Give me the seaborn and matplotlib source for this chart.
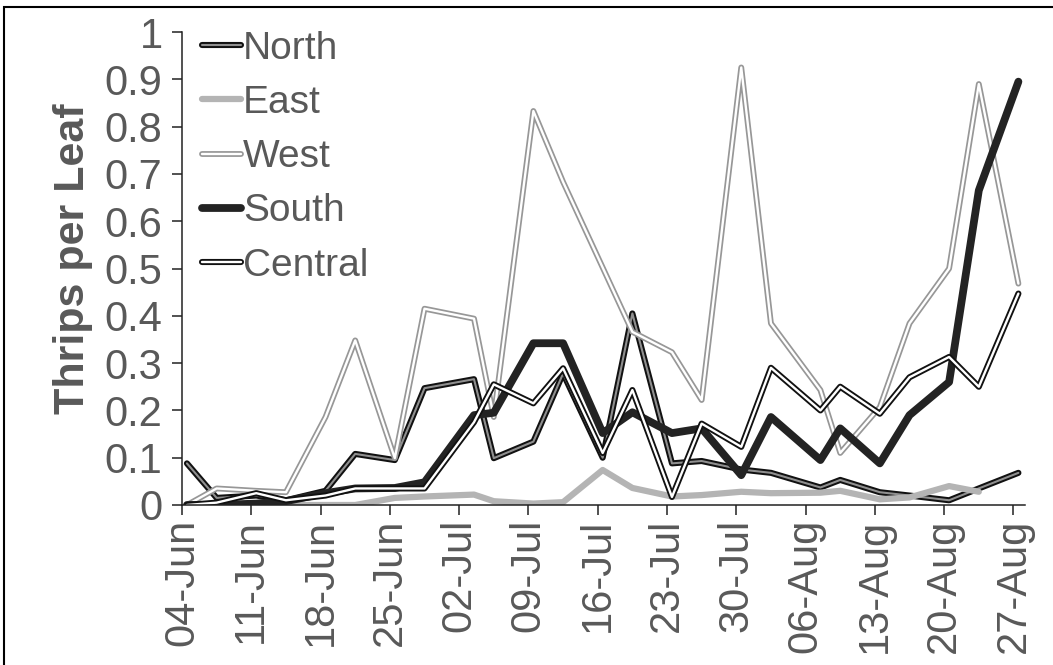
import numpy as np
import pandas as pd
import seaborn as sns
import matplotlib.pyplot as plt
import matplotlib.dates as mdates
import matplotlib.patheffects as pe
from matplotlib.patches import Rectangle

# sampling dates (twice a week)
dates = ["2018-06-04", "2018-06-07", "2018-06-11", "2018-06-14", "2018-06-18",
         "2018-06-21", "2018-06-25", "2018-06-28", "2018-07-03", "2018-07-05",
         "2018-07-09", "2018-07-12", "2018-07-16", "2018-07-19", "2018-07-23",
         "2018-07-26", "2018-07-30", "2018-08-02", "2018-08-07", "2018-08-09",
         "2018-08-13", "2018-08-16", "2018-08-20", "2018-08-23", "2018-08-27"]

north = [0.088, 0.015, 0.02, 0.01, 0.03, 0.108, 0.095, 0.247, 0.266, 0.099,
         0.134, 0.278, 0.10, 0.405, 0.088, 0.093, 0.075, 0.068, 0.037, 0.053,
         0.027, 0.02, 0.01, 0.035, 0.068]
east = [0, 0, 0, 0, 0, 0, 0.015, 0.018, 0.022, 0.008,
        0.003, 0.006, 0.074, 0.036, 0.018, 0.021, 0.028, 0.025, 0.026, 0.03,
        0.012, 0.016, 0.04, 0.028, np.nan]
west = [0, 0.035, 0.03, 0.027, 0.186, 0.348, 0.099, 0.415, 0.394, 0.186,
        0.833, 0.683, 0.502, 0.366, 0.323, 0.222, 0.925, 0.384, 0.243, 0.11,
        0.207, 0.384, 0.5, 0.89, 0.468]
south = [0, 0, 0.003, 0.008, 0.025, 0.035, 0.036, 0.048, 0.19, 0.195,
         0.342, 0.342, 0.152, 0.196, 0.152, 0.162, 0.063, 0.186, 0.095, 0.162,
         0.088, 0.19, 0.26, 0.665, 0.895]
central = [0, 0.005, 0.025, 0.01, 0.02, 0.035, 0.035, 0.035, 0.175, 0.255,
           0.215, 0.289, 0.11, 0.243, 0.017, 0.172, 0.123, 0.29, 0.2, 0.25,
           0.193, 0.27, 0.313, 0.25, 0.447]

y_ticks = [0, 0.1, 0.2, 0.3, 0.4, 0.5, 0.6, 0.7, 0.8, 0.9, 1]
y_tick_labels = ["0", "0.1", "0.2", "0.3", "0.4", "0.5", "0.6", "0.7", "0.8", "0.9", "1"]

sns.set_theme(style="white")
plt.rcParams['font.family'] = ['Liberation Sans', 'DejaVu Sans']

t = pd.to_datetime(dates) + pd.Timedelta(hours=12)

fig = plt.figure(figsize=(10.53, 6.65), dpi=100)
ax = fig.add_axes([182 / 1053, 160 / 665, 843 / 1053, 473 / 665])

# name, main colour, main width, outline colour, outline width
series = [
    ("North", north, "#8f8f8f", 1.5, "#111111", 4.4),
    ("East", east, "#b4b4b4", 4.5, None, None),
    ("West", west, "#ffffff", 1.7, "#979797", 4.2),
    ("South", south, "#232323", 5.6, None, None),
    ("Central", central, "#ffffff", 1.7, "#111111", 4.4),
]

for name, vals, col, lw, ocol, olw in series:
    df = pd.DataFrame({"date": t, "thrips": vals})
    kw = {}
    if ocol is not None:
        kw["path_effects"] = [pe.Stroke(linewidth=olw, foreground=ocol), pe.Normal()]
    sns.lineplot(data=df, x="date", y="thrips", ax=ax, color=col, linewidth=lw,
                 label=name, solid_capstyle="round", solid_joinstyle="round", **kw)

ax.set_xlim(pd.Timestamp("2018-06-04"), pd.Timestamp("2018-08-28 04:00"))
ax.set_ylim(0, 1)
ax.xaxis.set_major_locator(mdates.WeekdayLocator(byweekday=mdates.MO))
ax.xaxis.set_major_formatter(mdates.DateFormatter("%d-%b"))
ax.set_yticks(y_ticks)
ax.set_yticklabels(y_tick_labels)

ax.tick_params(axis="y", direction="out", length=7, width=1.1, color="#222222",
               labelsize=30, labelcolor="#595959", pad=7, left=True)
ax.tick_params(axis="x", direction="out", length=7, width=1.1, color="#222222",
               labelsize=30, labelcolor="#595959", pad=3, bottom=True,
               labelrotation=90)

ax.set_xlabel("")
ax.set_ylabel("Thrips per Leaf", fontsize=31, fontweight="bold", color="#595959")
ax.yaxis.set_label_coords(-0.106, 0.52)

sns.despine(ax=ax)
for s in ["left", "bottom"]:
    ax.spines[s].set_color("#222222")
    ax.spines[s].set_linewidth(1.1)

leg = ax.legend(loc="upper left", bbox_to_anchor=(0.024, 1.003), frameon=False,
                fontsize=28, handlelength=1.0, handletextpad=0.05,
                labelspacing=0.47, borderaxespad=0, borderpad=0)
for txt in leg.get_texts():
    txt.set_color("#595959")

# outer frame of the figure
fig.patches.append(Rectangle((4 / 1053, -0.05), 1.2, 1.05 - 7 / 665, fill=False,
                             edgecolor="black", linewidth=1.5,
                             transform=fig.transFigure, figure=fig))

fig.savefig("out.png", dpi=100)
